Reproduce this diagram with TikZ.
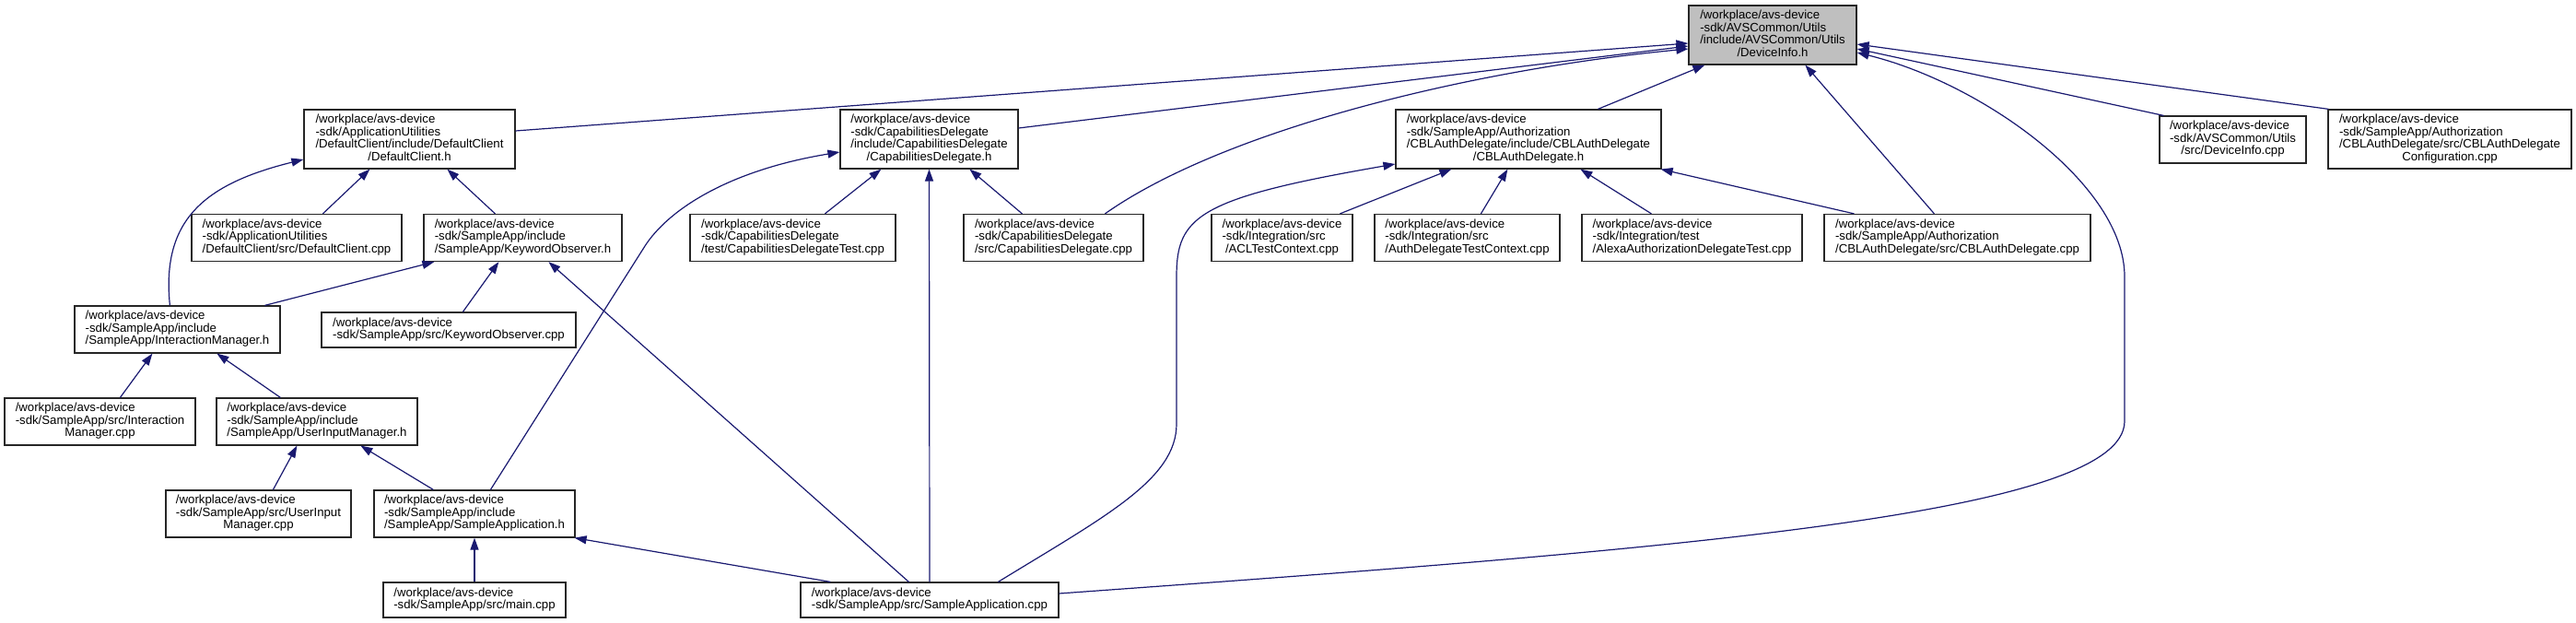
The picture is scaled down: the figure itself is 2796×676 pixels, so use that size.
\documentclass[tikz,border=0pt]{standalone}
\usepackage{fontspec}
\setmainfont{Liberation Sans}
\usetikzlibrary{arrows.meta}
\definecolor{edgeblue}{HTML}{191970}
\definecolor{rootgray}{HTML}{BFBFBF}
\newcommand\fl[2]{\begin{tabular}{@{}l@{}}#1\multicolumn{1}{@{}c@{}}{#2}\end{tabular}}
\begin{document}
\begin{tikzpicture}[x=1pt,y=-1pt,
  box/.style={draw=black!85, line width=1.2pt, fill=white, inner sep=0pt,
    font=\fontsize{13.2}{13.3}\selectfont},
  arr/.style={draw=edgeblue, line width=1.2pt, {Triangle[length=13pt,width=9pt]}-}]
\useasboundingbox (0,0) rectangle (2796,676);
% row 1
\node[box, fill=rootgray, minimum width=182pt, minimum height=64pt] (root) at (1924,38)
  {\fl{/workplace/avs-device\\-sdk/AVSCommon/Utils\\/include/AVSCommon/Utils\\}{/DeviceInfo.h}};
% row 2
\node[box, minimum width=229pt, minimum height=64pt] (dch) at (444.5,151)
  {\fl{/workplace/avs-device\\-sdk/ApplicationUtilities\\/DefaultClient/include/DefaultClient\\}{/DefaultClient.h}};
\node[box, minimum width=193pt, minimum height=64pt] (cdh) at (1008.5,151)
  {\fl{/workplace/avs-device\\-sdk/CapabilitiesDelegate\\/include/CapabilitiesDelegate\\}{/CapabilitiesDelegate.h}};
\node[box, minimum width=288pt, minimum height=64pt] (cblh) at (1659,151)
  {\fl{/workplace/avs-device\\-sdk/SampleApp/Authorization\\/CBLAuthDelegate/include/CBLAuthDelegate\\}{/CBLAuthDelegate.h}};
\node[box, minimum width=159pt, minimum height=51pt] (dicpp) at (2423.5,151.5)
  {\fl{/workplace/avs-device\\-sdk/AVSCommon/Utils\\}{/src/DeviceInfo.cpp}};
\node[box, minimum width=264pt, minimum height=64pt] (cfg) at (2659,151)
  {\fl{/workplace/avs-device\\-sdk/SampleApp/Authorization\\/CBLAuthDelegate/src/CBLAuthDelegate\\}{Configuration.cpp}};
% row 3
\node[box, minimum width=228pt, minimum height=51pt] (dccpp) at (322,258)
  {\fl{/workplace/avs-device\\-sdk/ApplicationUtilities\\}{/DefaultClient/src/DefaultClient.cpp}};
\node[box, minimum width=215pt, minimum height=51pt] (koh) at (567.5,258)
  {\fl{/workplace/avs-device\\-sdk/SampleApp/include\\}{/SampleApp/KeywordObserver.h}};
\node[box, minimum width=223pt, minimum height=51pt] (cdtest) at (860.5,258)
  {\fl{/workplace/avs-device\\-sdk/CapabilitiesDelegate\\}{/test/CapabilitiesDelegateTest.cpp}};
\node[box, minimum width=195pt, minimum height=51pt] (cdcpp) at (1143.5,258)
  {\fl{/workplace/avs-device\\-sdk/CapabilitiesDelegate\\}{/src/CapabilitiesDelegate.cpp}};
\node[box, minimum width=153pt, minimum height=51pt] (acl) at (1391.5,258)
  {\fl{/workplace/avs-device\\-sdk/Integration/src\\}{/ACLTestContext.cpp}};
\node[box, minimum width=201pt, minimum height=51pt] (adtc) at (1592.5,258)
  {\fl{/workplace/avs-device\\-sdk/Integration/src\\}{/AuthDelegateTestContext.cpp}};
\node[box, minimum width=239pt, minimum height=51pt] (aadt) at (1836.5,258)
  {\fl{/workplace/avs-device\\-sdk/Integration/test\\}{/AlexaAuthorizationDelegateTest.cpp}};
\node[box, minimum width=289pt, minimum height=51pt] (cblcpp) at (2124.5,258)
  {\fl{/workplace/avs-device\\-sdk/SampleApp/Authorization\\}{/CBLAuthDelegate/src/CBLAuthDelegate.cpp}};
% row 4
\node[box, minimum width=223pt, minimum height=51pt] (imh) at (192.5,357.5)
  {\fl{/workplace/avs-device\\-sdk/SampleApp/include\\}{/SampleApp/InteractionManager.h}};
\node[box, minimum width=276pt, minimum height=38pt] (kocpp) at (487,358)
  {\fl{/workplace/avs-device\\}{-sdk/SampleApp/src/KeywordObserver.cpp}};
% row 5
\node[box, minimum width=207pt, minimum height=51pt] (imcpp) at (108.5,457.5)
  {\fl{/workplace/avs-device\\-sdk/SampleApp/src/Interaction\\}{Manager.cpp}};
\node[box, minimum width=218pt, minimum height=51pt] (uimh) at (344,457.5)
  {\fl{/workplace/avs-device\\-sdk/SampleApp/include\\}{/SampleApp/UserInputManager.h}};
% row 6
\node[box, minimum width=201pt, minimum height=51pt] (uimcpp) at (280.5,557.5)
  {\fl{/workplace/avs-device\\-sdk/SampleApp/src/UserInput\\}{Manager.cpp}};
\node[box, minimum width=218pt, minimum height=51pt] (sah) at (515,557.5)
  {\fl{/workplace/avs-device\\-sdk/SampleApp/include\\}{/SampleApp/SampleApplication.h}};
% row 7
\node[box, minimum width=198pt, minimum height=38pt] (maincpp) at (515,651)
  {\fl{/workplace/avs-device\\}{-sdk/SampleApp/src/main.cpp}};
\node[box, minimum width=280pt, minimum height=38pt] (sacpp) at (1009,651)
  {\fl{/workplace/avs-device\\}{-sdk/SampleApp/src/SampleApplication.cpp}};

% edges into root
\draw[arr] ([yshift=-9pt]root.west) -- ([yshift=9pt]dch.east);
\draw[arr] ([yshift=-12pt]root.west) -- ([yshift=12pt]cdh.east);
\draw[arr] ([yshift=-15pt]root.west) .. controls (1600,75) and (1330,140) .. ([xshift=154pt]cdcpp.north west);
\draw[arr] ([xshift=18pt]root.south west) -- ([xshift=220pt]cblh.north west);
\draw[arr] ([xshift=127pt]root.south west) -- ([xshift=120pt]cblcpp.north west);
\coordinate (sa1) at (2306,300);
\coordinate (sa2) at (2306,457);
\draw[arr] ([yshift=-19pt]root.east) .. controls (2150,90) and (2306,200) .. (sa1) -- (sa2)
  .. controls (2306,560) and (1800,597) .. ([yshift=7pt]sacpp.east);
\draw[arr] ([yshift=-15pt]root.east) -- ([xshift=5pt]dicpp.north west);
\draw[arr] ([yshift=-10pt]root.east) -- ([xshift=1pt]cfg.north west);

% DefaultClient.h
\draw[arr] ([xshift=72pt]dch.south west) -- ([xshift=143pt]dccpp.north west);
\draw[arr] ([xshift=156pt]dch.south west) -- ([xshift=78pt]koh.north west);
\draw[arr] ([yshift=-22pt]dch.west) .. controls (220,200) and (175,240) .. ([xshift=104pt]imh.north west);

% CapabilitiesDelegate.h
\coordinate (cd1) at (700,267);
\draw[arr] ([yshift=-14pt]cdh.west) .. controls (790,185) and (725,228) .. (cd1) -- ([xshift=127pt]sah.north west);
\draw[arr] ([xshift=45pt]cdh.south west) -- ([xshift=147pt]cdtest.north west);
\draw[arr] (cdh.south) -- (sacpp.north);
\draw[arr] ([xshift=141pt]cdh.south west) -- ([xshift=64pt]cdcpp.north west);

% CBLAuthDelegate.h
\coordinate (cb1) at (1277,300);
\coordinate (cb2) at (1277,460);
\draw[arr] ([yshift=-27pt]cblh.west) .. controls (1300,215) and (1277,235) .. (cb1) -- (cb2)
  .. controls (1277,520) and (1200,560) .. ([xshift=215pt]sacpp.north west);
\draw[arr] ([xshift=61pt]cblh.south west) -- ([xshift=140pt]acl.north west);
\draw[arr] ([xshift=122pt]cblh.south west) -- ([xshift=116pt]adtc.north west);
\draw[arr] ([xshift=201pt]cblh.south west) -- ([xshift=76pt]aadt.north west);
\draw[arr] ([xshift=-1pt]cblh.south east) -- ([xshift=33pt]cblcpp.north west);

% KeywordObserver.h
\draw[arr] ([xshift=12pt]koh.south west) -- ([xshift=207pt]imh.north west);
\draw[arr] ([xshift=82pt]koh.south west) -- ([xshift=154pt]kocpp.north west);
\draw[arr] ([xshift=136pt]koh.south west) -- ([xshift=118pt]sacpp.north west);

% InteractionManager.h
\draw[arr] ([xshift=85pt]imh.south west) -- ([xshift=126pt]imcpp.north west);
\draw[arr] ([xshift=155pt]imh.south west) -- ([xshift=70pt]uimh.north west);

% UserInputManager.h
\draw[arr] ([xshift=88pt]uimh.south west) -- ([xshift=117pt]uimcpp.north west);
\draw[arr] ([xshift=157pt]uimh.south west) -- ([xshift=65pt]sah.north west);

% SampleApplication.h
\draw[arr] (sah.south) -- (maincpp.north);
\draw[arr] ([xshift=-1pt]sah.south east) -- ([xshift=33pt]sacpp.north west);
\end{tikzpicture}
\end{document}
